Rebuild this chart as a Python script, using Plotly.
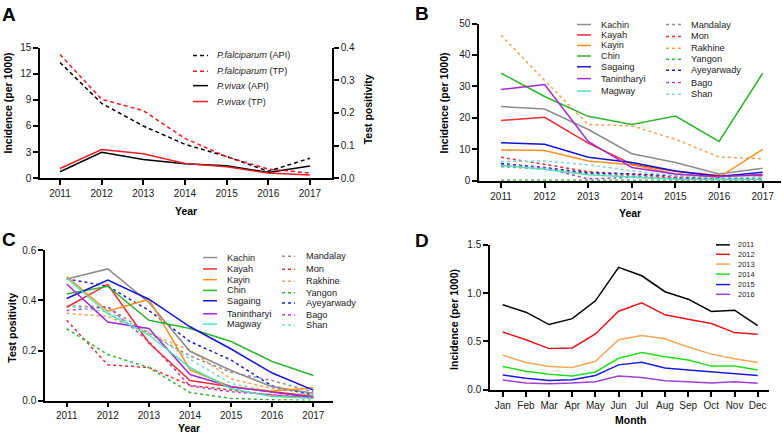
import plotly.graph_objects as go

W, H = 782, 441

# ---------------- data ----------------
years = [2011, 2012, 2013, 2014, 2015, 2016, 2017]
months = ["Jan", "Feb", "Mar", "Apr", "May", "Jun", "Jul", "Aug", "Sep", "Oct", "Nov", "Dec"]

# Panel A
pf_api = [13.3, 8.6, 6.0, 3.9, 2.5, 0.8, 2.3]
pf_tp = [0.379, 0.242, 0.207, 0.122, 0.066, 0.028, 0.016]
pv_api = [0.75, 2.98, 2.16, 1.68, 1.45, 0.67, 1.42]
pv_tp = [0.030, 0.088, 0.075, 0.045, 0.035, 0.016, 0.010]

# Regions / states
regions = ["Kachin", "Kayah", "Kayin", "Chin", "Sagaing", "Tanintharyi", "Magway",
           "Mandalay", "Mon", "Rakhine", "Yangon", "Ayeyarwady", "Bago", "Shan"]

# Panel B: incidence (per 1000)
kachin_b = [23.6, 22.8, 16.3, 8.6, 5.8, 2.2, 4.0]
kayah_b = [19.2, 20.2, 12.0, 5.3, 3.0, 1.7, 1.7]
kayin_b = [9.8, 9.6, 6.3, 5.1, 2.2, 1.1, 10.0]
chin_b = [34.2, 26.8, 20.5, 17.9, 20.6, 12.5, 34.2]
sagaing_b = [12.1, 11.6, 7.5, 5.8, 3.1, 1.4, 2.7]
tanintharyi_b = [29.0, 30.6, 12.5, 4.2, 2.2, 1.3, 2.0]
magway_b = [4.9, 3.7, 1.9, 1.1, 0.5, 0.4, 0.4]
mandalay_b = [4.5, 3.7, 2.2, 1.4, 0.8, 0.5, 0.5]
mon_b = [7.5, 5.3, 2.9, 2.0, 1.1, 0.6, 0.6]
rakhine_b = [46.3, 31.9, 17.9, 17.5, 13.2, 7.6, 7.0]
yangon_b = [0.2, 0.2, 0.15, 0.1, 0.1, 0.1, 0.1]
ayeyarwady_b = [5.5, 4.2, 2.5, 2.2, 1.6, 0.6, 1.1]
bago_b = [5.1, 4.2, 0.6, 1.1, 0.7, 0.5, 0.4]
shan_b = [6.1, 6.3, 5.1, 3.2, 1.6, 0.9, 1.1]

# Panel C: test positivity
kachin_c = [0.486, 0.526, 0.392, 0.197, 0.120, 0.055, 0.029]
kayah_c = [0.373, 0.464, 0.230, 0.080, 0.055, 0.035, 0.016]
kayin_c = [0.496, 0.357, 0.405, 0.123, 0.055, 0.038, 0.051]
chin_c = [0.426, 0.457, 0.321, 0.288, 0.236, 0.156, 0.100]
sagaing_c = [0.408, 0.482, 0.405, 0.295, 0.206, 0.110, 0.042]
tanintharyi_c = [0.466, 0.314, 0.288, 0.104, 0.055, 0.035, 0.012]
magway_c = [0.490, 0.347, 0.262, 0.132, 0.048, 0.016, 0.009]
mandalay_c = [0.379, 0.373, 0.269, 0.178, 0.113, 0.080, 0.035]
mon_c = [0.321, 0.143, 0.132, 0.061, 0.042, 0.022, 0.009]
rakhine_c = [0.349, 0.336, 0.269, 0.201, 0.087, 0.048, 0.029]
yangon_c = [0.287, 0.184, 0.132, 0.032, 0.009, 0.003, 0.001]
ayeyarwady_c = [0.486, 0.457, 0.360, 0.236, 0.162, 0.058, 0.022]
bago_c = [0.360, 0.375, 0.236, 0.058, 0.035, 0.022, 0.012]
shan_c = [0.379, 0.353, 0.275, 0.165, 0.068, 0.035, 0.022]

# Panel D: monthly incidence
d_years = ["2011", "2012", "2013", "2014", "2015", "2016"]
d_2011 = [0.879, 0.802, 0.674, 0.735, 0.919, 1.265, 1.178, 1.013, 0.936, 0.809, 0.822, 0.664]
d_2012 = [0.597, 0.517, 0.426, 0.433, 0.577, 0.812, 0.899, 0.775, 0.728, 0.685, 0.591, 0.574]
d_2013 = [0.359, 0.282, 0.242, 0.232, 0.295, 0.517, 0.560, 0.527, 0.443, 0.369, 0.322, 0.282]
d_2014 = [0.242, 0.191, 0.161, 0.144, 0.185, 0.326, 0.386, 0.342, 0.309, 0.245, 0.245, 0.205]
d_2015 = [0.154, 0.121, 0.097, 0.104, 0.148, 0.258, 0.285, 0.225, 0.205, 0.188, 0.171, 0.148]
d_2016 = [0.101, 0.070, 0.064, 0.070, 0.084, 0.144, 0.128, 0.094, 0.084, 0.070, 0.084, 0.067]

b_series = [kachin_b, kayah_b, kayin_b, chin_b, sagaing_b, tanintharyi_b, magway_b,
            mandalay_b, mon_b, rakhine_b, yangon_b, ayeyarwady_b, bago_b, shan_b]
c_series = [kachin_c, kayah_c, kayin_c, chin_c, sagaing_c, tanintharyi_c, magway_c,
            mandalay_c, mon_c, rakhine_c, yangon_c, ayeyarwady_c, bago_c, shan_c]
d_series = [d_2011, d_2012, d_2013, d_2014, d_2015, d_2016]

# ---------------- styles ----------------
FONT = "Liberation Sans, Arial, Helvetica, sans-serif"
RED = "#EE1C25"
region_colors = ["#8C8C8C", "#EE2D36", "#F7901E", "#2DB52D", "#1414D2", "#A02AD6", "#4FE3B8",
                 "#8C8C8C", "#EE2D36", "#F5A050", "#35B035", "#1E1ED6", "#B040E6", "#7FDCCB"]
region_dash = ["solid"] * 7 + ["3px,3px"] * 7
d_colors = ["#000000", "#E8141B", "#F8A65A", "#22DD22", "#1A1AE6", "#A040D0"]
LW = 1.5
DASH_A = "4px,3px"
LEG = 9.2


def px(x):
    return x / W


def py(y):
    return 1 - y / H


fig = go.Figure()

# Panel A traces
fig.add_trace(go.Scatter(x=years, y=pf_api, mode="lines", xaxis="x", yaxis="y",
                         line=dict(color="#000000", width=LW, dash=DASH_A), showlegend=False))
fig.add_trace(go.Scatter(x=years, y=pf_tp, mode="lines", xaxis="x", yaxis="y2",
                         line=dict(color=RED, width=LW, dash=DASH_A), showlegend=False))
fig.add_trace(go.Scatter(x=years, y=pv_api, mode="lines", xaxis="x", yaxis="y",
                         line=dict(color="#000000", width=LW), showlegend=False))
fig.add_trace(go.Scatter(x=years, y=pv_tp, mode="lines", xaxis="x", yaxis="y2",
                         line=dict(color=RED, width=LW), showlegend=False))

# Panel B and C traces (draw dashed first so solid on top)
order = list(range(7, 14)) + list(range(0, 7))
for i in order:
    fig.add_trace(go.Scatter(x=years, y=b_series[i], mode="lines", xaxis="x2", yaxis="y3",
                             name=regions[i], showlegend=False,
                             line=dict(color=region_colors[i], width=LW, dash=region_dash[i])))
for i in order:
    fig.add_trace(go.Scatter(x=years, y=c_series[i], mode="lines", xaxis="x3", yaxis="y4",
                             name=regions[i], showlegend=False,
                             line=dict(color=region_colors[i], width=LW, dash=region_dash[i])))

# Panel D traces
for i, s in enumerate(d_series):
    fig.add_trace(go.Scatter(x=months, y=s, mode="lines", xaxis="x4", yaxis="y5",
                             name=d_years[i], showlegend=False,
                             line=dict(color=d_colors[i], width=LW)))

axis_common = dict(showline=True, linecolor="#000000", linewidth=1.5, ticks="outside",
                   ticklen=5, tickwidth=1.5, tickcolor="#000000", showgrid=False,
                   zeroline=False, tickfont=dict(family=FONT, size=10, color="#1a1a1a"),
                   fixedrange=True)

layout = dict(
    width=W, height=H, margin=dict(l=0, r=0, t=0, b=0),
    paper_bgcolor="white", plot_bgcolor="white", showlegend=False,
    font=dict(family=FONT, color="#000000"),
    # A
    xaxis=dict(domain=[px(40), px(332)], range=[2010.52, 2017.53], anchor="y",
               tickvals=years, **axis_common),
    yaxis=dict(domain=[py(177.7), py(43.7)], range=[0, 15], anchor="x",
               tickvals=[0, 3, 6, 9, 12, 15], **axis_common),
    yaxis2=dict(domain=[py(177.7), py(43.7)], range=[0, 0.4], anchor="x", overlaying="y",
                side="right", tickvals=[0, 0.1, 0.2, 0.3, 0.4], tickformat=".1f", **axis_common),
    # B
    xaxis2=dict(domain=[px(479), px(781)], range=[2010.495, 2017.42], anchor="y3",
                tickvals=years, **axis_common),
    yaxis3=dict(domain=[py(180.3), py(19)], range=[0, 50], anchor="x2",
                tickvals=[0, 10, 20, 30, 40, 50], **axis_common),
    # C
    xaxis3=dict(domain=[px(45), px(333)], range=[2010.472, 2017.479], anchor="y4",
                tickvals=years, **axis_common),
    yaxis4=dict(domain=[py(405.7), py(251.7)], range=[0, 0.6], anchor="x3",
                tickvals=[0, 0.2, 0.4, 0.6], tickformat=".1f", **axis_common),
    # D
    xaxis4=dict(domain=[px(490), px(769)], range=[-0.548, 11.487], anchor="y5",
                type="category", categoryarray=months, **axis_common),
    yaxis5=dict(domain=[py(394.7), py(245.7)], range=[0, 1.5], anchor="x4",
                tickvals=[0, 0.5, 1.0, 1.5], tickformat=".1f", **axis_common),
)

shapes = []
annotations = []


def text_at(x, y, text, size, bold=False, angle=0, xanchor="center", color="#000000"):
    t = "<b>%s</b>" % text if bold else text
    annotations.append(dict(text=t, x=px(x), y=py(y), xref="paper", yref="paper",
                            xanchor=xanchor, yanchor="middle", showarrow=False,
                            textangle=angle, font=dict(family=FONT, size=size, color=color)))


def legend_item(x0, x1, y, color, dash, text, tx, size):
    shapes.append(dict(type="line", xref="paper", yref="paper", x0=px(x0), x1=px(x1),
                       y0=py(y), y1=py(y), line=dict(color=color, width=1.5, dash=dash)))
    text_at(tx, y, text, size, xanchor="left", color="#1a1a1a")


# Panel labels
text_at(9, 10, "A", 19, bold=True)
text_at(422, 9, "B", 19, bold=True)
text_at(9, 241, "C", 19, bold=True)
text_at(422, 242, "D", 19, bold=True)

# Axis titles
text_at(8, 101, "Incidence (per 1000)", 10.5, bold=True, angle=-90)
text_at(368, 107, "Test positivity", 10.5, bold=True, angle=-90)
text_at(186, 211, "Year", 10.5, bold=True)
text_at(444, 101, "Incidence (per 1000)", 10.5, bold=True, angle=-90)
text_at(630, 213, "Year", 10.5, bold=True)
text_at(12, 331, "Test positivity", 10.5, bold=True, angle=-90)
text_at(189, 434, "Year", 10.5, bold=True)
text_at(454, 323, "Incidence (per 1000)", 10.5, bold=True, angle=-90)
text_at(631, 426, "Month", 10.5, bold=True)

# Legend A
a_labels = ["<i>P.falciparum</i> (API)", "<i>P.falciparum</i> (TP)",
            "<i>P.vivax</i> (API)", "<i>P.vivax</i> (TP)"]
a_colors = ["#000000", RED, "#000000", RED]
a_dash = [DASH_A, DASH_A, "solid", "solid"]
a_rows = [51.7, 68, 82.7, 99]
for k in range(4):
    legend_item(193, 208, a_rows[k], a_colors[k], a_dash[k], a_labels[k], 215, LEG)

# Legend B
b_rows1 = [20, 30.7, 41.5, 52.3, 63.3, 75.5, 88.3]
b_rows2 = [20, 32.3, 44.3, 55.7, 67, 79.5, 91.5]
for k in range(7):
    legend_item(577, 591, b_rows1[k], region_colors[k], region_dash[k], regions[k], 599, LEG)
    legend_item(666, 682, b_rows2[k], region_colors[k + 7], region_dash[k + 7], regions[k + 7], 689, LEG)

# Legend C
c_rows1 = [259, 270.7, 281.7, 292.7, 303.3, 316.7, 327.3]
c_rows2 = [257.7, 271, 283.3, 295, 305.7, 317.7, 328.3]
for k in range(7):
    legend_item(203, 217, c_rows1[k], region_colors[k], region_dash[k], regions[k], 225, LEG)
    legend_item(282, 295, c_rows2[k], region_colors[k + 7], region_dash[k + 7], regions[k + 7], 304, LEG)

# Legend D
d_rows = [246, 255.7, 265.7, 276, 286.7, 296.7]
for k in range(6):
    legend_item(716, 730, d_rows[k], d_colors[k], "solid", d_years[k], 736, 7.5)

layout["shapes"] = shapes
layout["annotations"] = annotations
fig.update_layout(**layout)

fig.write_html("out.html", config={"displayModeBar": False},
               post_script="document.body.style.margin='0';document.body.style.padding='0';"
                           "document.documentElement.style.overflow='hidden';")
